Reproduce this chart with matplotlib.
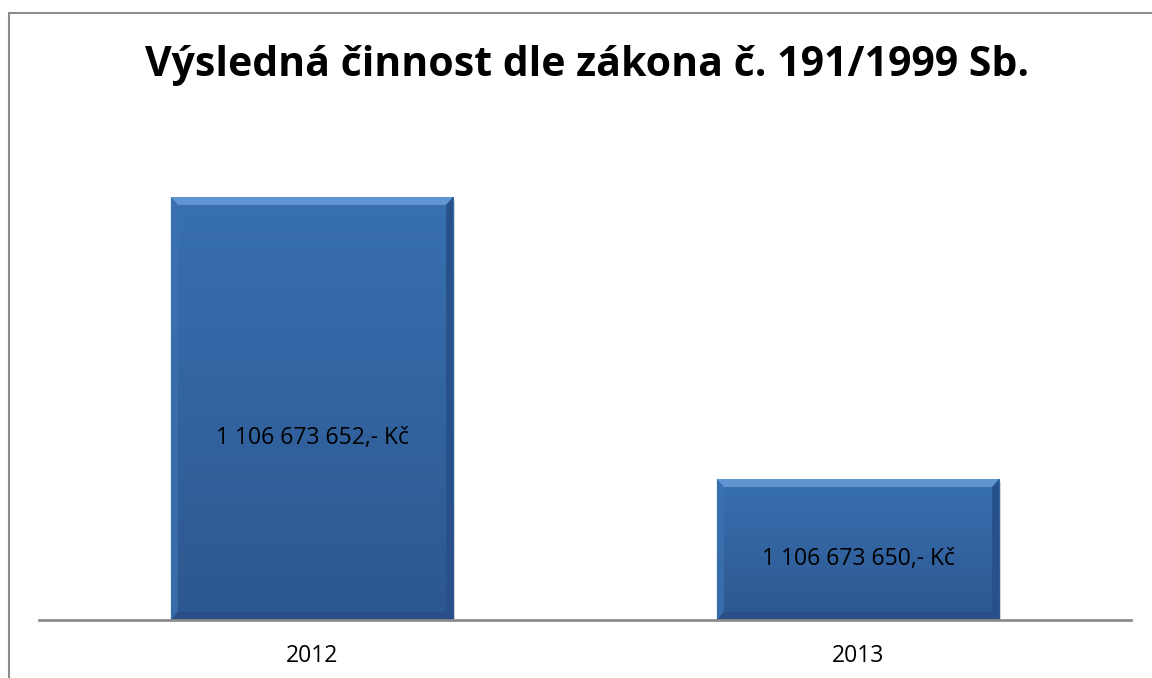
import numpy as np
import matplotlib.pyplot as plt
from matplotlib.patches import Rectangle, Polygon
from matplotlib.colors import LinearSegmentedColormap

# data
years = ['2012', '2013']
values = [1106673652, 1106673650]
labels = ['1 106 673 652,- Kč', '1 106 673 650,- Kč']
y_min, y_max = 1106673649, 1106673653

plt.rcParams['font.family'] = ['Open Sans', 'DejaVu Sans']

W, H = 1152, 678
fig = plt.figure(figsize=(W / 100, H / 100), dpi=100)
ax = fig.add_axes([39 / W, 1 - 620 / H, (1131 - 39) / W, 564 / H])

x = np.arange(len(years))
bar_w = 0.517
bars = ax.bar(x, np.array(values) - y_min, bottom=y_min, width=bar_w,
              color='#3469a8', edgecolor='none', zorder=2)
ax.set_xlim(-0.5, len(years) - 0.5)
ax.set_ylim(y_min, y_max)

# pixel -> data sizes for the bevel
px_x = (ax.get_xlim()[1] - ax.get_xlim()[0]) / ((1131 - 39))
px_y = (y_max - y_min) / 564.0

grad = LinearSegmentedColormap.from_list('g', ['#3870b0', '#2d5790'])
for b, lab in zip(bars, labels):
    x0, y0 = b.get_x(), b.get_y()
    bw, bh = b.get_width(), b.get_height()
    x1, y1 = x0 + bw, y0 + bh
    # drop shadow
    ax.add_patch(Rectangle((x0 + 2 * px_x, y0 - 3 * px_y), bw, bh,
                           color='#b8b8b8', alpha=0.6, zorder=1, lw=0))
    img = ax.imshow(np.linspace(0, 1, 100).reshape(-1, 1), cmap=grad,
                    extent=[x0, x1, y0, y1], aspect='auto', origin='upper', zorder=2.5)
    img.set_clip_path(b)
    bx, by = 7 * px_x, 8 * px_y
    ax.add_patch(Polygon([[x0, y1], [x1, y1], [x1 - bx, y1 - by], [x0 + bx, y1 - by]],
                         closed=True, color='#5f95d0', lw=0, zorder=3))
    ax.add_patch(Polygon([[x0, y1], [x0 + bx, y1 - by], [x0 + bx, y0 + by], [x0, y0]],
                         closed=True, color='#3b71b0', lw=0, zorder=3, alpha=0.8))
    ax.add_patch(Polygon([[x1, y1], [x1 - bx, y1 - by], [x1 - bx, y0 + by], [x1, y0]],
                         closed=True, color='#28518a', lw=0, zorder=3))
    ax.add_patch(Polygon([[x0, y0], [x0 + bx, y0 + by], [x1 - bx, y0 + by], [x1, y0]],
                         closed=True, color='#294f86', lw=0, zorder=3))
    ax.text(x0 + bw / 2, y0 + bh * 0.43, lab, ha='center', va='center',
            fontsize=16.5, color='black', zorder=4)

for s in ['top', 'right', 'left']:
    ax.spines[s].set_visible(False)
ax.spines['bottom'].set_color('#8c8c8c')
ax.spines['bottom'].set_linewidth(2)
ax.spines['bottom'].set_zorder(5)
ax.set_yticks([])
ax.set_xticks(x)
ax.set_xticklabels(years, fontsize=16.5)
ax.tick_params(axis='x', length=0, pad=17)
ax.patch.set_alpha(0)

fig.text(587 / W, 1 - 66 / H, 'Výsledná činnost dle zákona č. 191/1999 Sb.',
         ha='center', va='center', fontsize=29.5, fontweight='bold')

# outer chart border (continues past the picture)
fig.add_artist(Rectangle((9 / W, -0.1), 1.2, 1 - 13 / H + 0.1, transform=fig.transFigure,
                         fill=False, edgecolor='#8c8c8c', lw=1.5))

fig.savefig('out.png', dpi=100)
